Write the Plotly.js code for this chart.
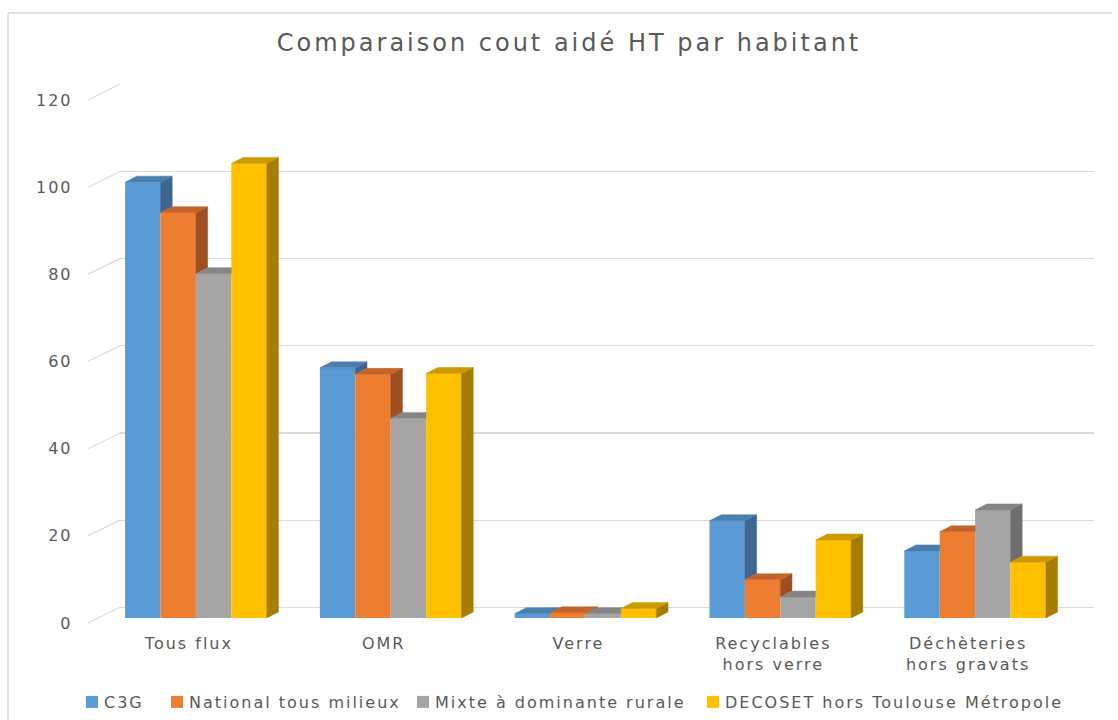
<!DOCTYPE html>
<html>
<head>
<meta charset="utf-8">
<script src="https://cdn.plot.ly/plotly-3.0.1.min.js"></script>
<style>
html,body{margin:0;padding:0;background:#fff;}
#chart{width:1118px;height:720px;}
g.x2tick text, g.y2tick text{letter-spacing:2px;}
.infolayer text, text.legendtext{letter-spacing:2px;}
.infolayer text.gtitle{letter-spacing:3px;}
g.legendpoints{transform:translateX(8px);}
</style>
</head>
<body>
<div id="chart"></div>
<script>
// ---- data ----
const categories = ["Tous flux", "OMR", "Verre", "Recyclables<br>hors verre", "Déchèteries<br>hors gravats"];
const seriesNames = ["C3G", "National tous milieux", "Mixte à dominante rurale", "DECOSET hors Toulouse Métropole"];
const c3g      = [100, 57.4, 1.0, 22.3, 15.4];
const national = [93, 55.9, 1.2, 8.8, 19.8];
const mixte    = [79, 45.8, 1.0, 4.8, 24.8];
const decoset  = [104.3, 56.1, 2.2, 17.9, 12.8];
const yTicks = [0, 20, 40, 60, 80, 100, 120];

// ---- style ----
const W = 1118, H = 720;
const frontColors = ["#5B9BD5", "#ED7D31", "#A5A5A5", "#FFC000"];
const topColors   = ["#4A7EAF", "#C5632A", "#858585", "#CC9A00"];
const sideColors  = ["#3D6790", "#9E4F1F", "#6E6E6E", "#A67D00"];
const textColor = "#595959";
const gridColor = "#D9D9D9";
const font = "DejaVu Sans, Open Sans, sans-serif";
const legendTextStartPx = [105, 190, 436, 726];
const legendEntryWidthPx = [70, 240, 285, 370];

// pixel geometry
const barLeftPx = 98.5, barRightPx = 1072.5;  // x2 domain
const y0Px = 618, yTopPx = 95;                 // y2 domain (0 -> 120)
const pxPerUnit = (y0Px - yTopPx) / 120;
const wallDx = 21.5, wallDy = 10.7;            // back wall offset
const depthDxPx = 11.7, depthDyPx = 6;          // bar depth offset
const catPx = (barRightPx - barLeftPx) / 5;
const bargap = 0.273;
const bw = (1 - bargap) / 4;
const ddx = depthDxPx / catPx, ddy = depthDyPx / pxPerUnit;

const series = [c3g, national, mixte, decoset];
const xIdx = categories.map((c, i) => i);
const legendIds = ["legend", "legend2", "legend3", "legend4"];

const traces = [];
// front faces: real bar traces
series.forEach((vals, j) => {
  traces.push({
    type: "bar", x: xIdx, y: vals, name: seriesNames[j],
    xaxis: "x2", yaxis: "y2", legend: legendIds[j],
    marker: {color: frontColors[j], line: {width: 0}},
    hoverinfo: "y+name"
  });
});

function clip(poly, f) {
  const out = [];
  for (let i = 0; i < poly.length; i++) {
    const a = poly[i], b = poly[(i + 1) % poly.length];
    const fa = f(a), fb = f(b);
    if (fa >= 0) out.push(a);
    if ((fa >= 0) !== (fb >= 0)) {
      const t = fa / (fa - fb);
      out.push([a[0] + t * (b[0] - a[0]), a[1] + t * (b[1] - a[1])]);
    }
  }
  return out;
}
function addPoly(acc, poly) {
  if (poly.length < 3) return;
  poly.forEach(p => { acc.x.push(p[0]); acc.y.push(p[1]); });
  acc.x.push(poly[0][0]); acc.y.push(poly[0][1]);
  acc.x.push(null); acc.y.push(null);
}

// depth faces derived from the values
series.forEach((vals, j) => {
  const top = {x: [], y: []}, side = {x: [], y: []};
  vals.forEach((v, i) => {
    const c = i + (j - 1.5) * bw;
    const L = c - bw / 2, R = c + bw / 2;
    const topLeft = [[L, v], [R, v], [R, v + ddy], [L + ddx, v + ddy]];
    let topRight = [[R, v], [R + ddx, v + ddy], [R, v + ddy]];
    let sidePoly = [[R, 0], [R, v], [R + ddx, v + ddy], [R + ddx, ddy]];
    if (j < 3) {
      const vn = series[j + 1][i];
      const f = p => p[1] - (vn + (p[0] - R) * ddy / ddx);
      topRight = clip(topRight, f);
      sidePoly = clip(sidePoly, f);
    }
    addPoly(top, topLeft);
    addPoly(top, topRight);
    addPoly(side, sidePoly);
  });
  [[side, sideColors[j]], [top, topColors[j]]].forEach(([d, col]) => {
    traces.push({
      type: "scatter", mode: "lines", x: d.x, y: d.y, fill: "toself",
      fillcolor: col, line: {color: col, width: 0.5},
      xaxis: "x2", yaxis: "y2", showlegend: false, hoverinfo: "skip"
    });
  });
});

// back wall gridline carrier
traces.push({type: "scatter", x: [0], y: [0], mode: "markers", marker: {opacity: 0},
  xaxis: "x", yaxis: "y", showlegend: false, hoverinfo: "skip"});

const shapes = [];
// diagonal connectors from labels to back wall
yTicks.forEach(v => {
  const pyLabel = y0Px - v * pxPerUnit + 5;
  const pyWall = y0Px - v * pxPerUnit - wallDy;
  shapes.push({type: "line", xref: "paper", yref: "paper",
    x0: 88 / W, y0: 1 - pyLabel / H, x1: 120 / W, y1: 1 - pyWall / H,
    line: {color: gridColor, width: 1.2}});
});
// outer chart border
shapes.push({type: "line", xref: "paper", yref: "paper", x0: 8 / W, x1: 8 / W, y0: 0, y1: 1 - 13 / H, line: {color: gridColor, width: 1.5}});
shapes.push({type: "line", xref: "paper", yref: "paper", x0: 8 / W, x1: 1112 / W, y0: 1 - 13 / H, y1: 1 - 13 / H, line: {color: gridColor, width: 1.5}});

const layout = {
  width: W, height: H,
  margin: {l: 0, r: 0, t: 0, b: 0},
  paper_bgcolor: "#fff", plot_bgcolor: "rgba(0,0,0,0)",
  font: {family: font, color: textColor, size: 16},
  title: {text: "Comparaison cout aidé HT par habitant", font: {size: 24, color: textColor, family: font},
    x: 569 / W, xanchor: "center", y: 1 - 43 / H, yanchor: "middle", yref: "container", xref: "container"},
  barmode: "group", bargap: bargap, bargroupgap: 0,
  showlegend: true,
  xaxis: {domain: [(barLeftPx + wallDx) / W, (barRightPx + wallDx) / W], range: [-0.5, 4.5],
    showgrid: false, zeroline: false, showline: false, showticklabels: false, fixedrange: true},
  yaxis: {domain: [1 - (y0Px - wallDy) / H, 1 - (yTopPx - wallDy) / H], range: [0, 120],
    tickvals: yTicks, showgrid: true, gridcolor: gridColor, gridwidth: 1.2,
    zeroline: true, zerolinecolor: gridColor, zerolinewidth: 1.2,
    showticklabels: false, showline: false, fixedrange: true},
  xaxis2: {domain: [barLeftPx / W, barRightPx / W], range: [-0.5, 4.5], anchor: "y2",
    tickvals: xIdx, ticktext: categories, showgrid: false, zeroline: false, showline: false,
    ticks: "", ticklabelstandoff: 14, ticklabelshift: -7,
    tickfont: {size: 16, color: textColor}, fixedrange: true},
  yaxis2: {domain: [1 - y0Px / H, 1 - yTopPx / H], range: [0, 120], anchor: "x2",
    tickvals: yTicks, showgrid: false, zeroline: false, showline: false, ticks: "",
    ticklabelstandoff: 25, ticklabelshift: 5,
    tickfont: {size: 16, color: textColor}, fixedrange: true},
  shapes: shapes
};
legendIds.forEach((id, j) => {
  layout[id] = {orientation: "h", x: (legendTextStartPx[j] - 41) / W, xanchor: "left",
    y: 1 - 702 / H, yanchor: "middle", bgcolor: "rgba(0,0,0,0)",
    entrywidth: legendEntryWidthPx[j], entrywidthmode: "pixels",
    font: {size: 16, color: textColor}, itemwidth: 30};
});

Plotly.newPlot("chart", traces, layout, {displayModeBar: false, staticPlot: true});
</script>
</body>
</html>
